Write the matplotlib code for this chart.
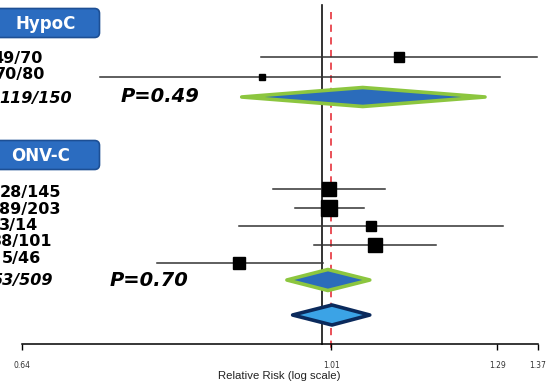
import numpy as np
import matplotlib
matplotlib.use("Agg")
import matplotlib.pyplot as plt
from matplotlib.patches import FancyBboxPatch, Polygon

# --- data -------------------------------------------------------------
groups = ["HypoC", "ONV-C"]
group_labels = [["49/70", "70/80"],
                ["28/145", "89/203", "3/14", "38/101", "5/46"]]
group_est = [[1.116, 0.912],
             [1.007, 1.007, 1.071, 1.077, 0.881]]
group_lo = [[0.910, 0.718],
            [0.927, 0.957, 0.881, 0.985, 0.781]]
group_hi = [[1.368, 1.295],
            [1.093, 1.060, 1.301, 1.179, 0.998]]
group_weight = [[7.0, 5.0],
                [9.5, 12.0, 7.0, 9.5, 8.5]]
pooled_labels = ["119/150", "53/509"]
pooled_est = [1.058, 1.005]
pooled_lo = [0.885, 0.946]
pooled_hi = [1.267, 1.069]
p_values = ["P=0.49", "P=0.70"]
overall_est, overall_lo, overall_hi = 1.011, 0.954, 1.069
null_line = 0.996
ref_line = 1.01
xticks = [0.64, 1.01, 1.29, 1.37]

# --- layout (pixels, figure is 550x387) --------------------------------
W, H = 550, 387
header_y = [23, 155]
first_row_y = [57, 189]
row_step = [20, 18.5]
label_first_y = [57, 192]
label_step = [17, 16.3]
pooled_y = [97, 280]
label_right = [[43, 45], [61, 61, 38, 52, 41]]
pooled_right = [72, 53]
p_left = [121, 110]
dia_half = [9.5, 10.5]
axis_y = 344

fig = plt.figure(figsize=(W / 100, H / 100), dpi=100)
ax = fig.add_axes([0, 0, 1, 1])
ax.set_xscale("log")
ax.set_xlim(0.6196, 1.3945)
ax.set_ylim(H, 0)

txt = fig.add_axes([0, 0, 1, 1], facecolor="none")
txt.set_xlim(0, W)
txt.set_ylim(H, 0)
txt.axis("off")

ax.plot([null_line, null_line], [5, axis_y], color="#111111", lw=1.2, zorder=1)
ax.plot([ref_line, ref_line], [12, axis_y + 5], color="#e8424b", lw=1.3,
        dashes=(4, 3), zorder=1)

for g, name in enumerate(groups):
    box = FancyBboxPatch((-30, header_y[g] - 13), 128, 26,
                         boxstyle="round,pad=1.5,rounding_size=5",
                         fc="#2b6cc0", ec="#1d4f94", lw=1.2)
    txt.add_patch(box)
    if g == 0:
        txt.text(46, header_y[g] + 1, name, color="white", fontsize=12,
                 fontweight="bold", ha="center", va="center")
    else:
        txt.text(70, header_y[g] + 1, name, color="white", fontsize=12,
                 fontweight="bold", ha="right", va="center")

    for i in range(len(group_labels[g])):
        y = first_row_y[g] + i * row_step[g]
        ax.plot([group_lo[g][i], group_hi[g][i]], [y, y], color="#333333",
                lw=1.1, zorder=2)
        ax.plot(group_est[g][i], y, marker="s", color="black",
                ms=group_weight[g][i], zorder=3)
        ty = label_first_y[g] + i * label_step[g]
        txt.text(label_right[g][i], ty + 1, group_labels[g][i], fontsize=11.5,
                 fontweight="bold", ha="right", va="center")

    py = pooled_y[g]
    h = dia_half[g]
    dia = Polygon([[pooled_lo[g], py], [pooled_est[g], py - h],
                   [pooled_hi[g], py], [pooled_est[g], py + h]],
                  closed=True, fc="#2b6cbb", ec="#8cc63f", lw=2.6,
                  joinstyle="round", zorder=3)
    ax.add_patch(dia)
    txt.text(pooled_right[g], py + 1, pooled_labels[g], fontsize=11.5,
             fontweight="bold", style="italic", ha="right", va="center")
    txt.text(p_left[g], py, p_values[g], fontsize=14, fontweight="bold",
             style="italic", ha="left", va="center")

oy = 315
dia = Polygon([[overall_lo, oy], [overall_est, oy - 10],
               [overall_hi, oy], [overall_est, oy + 10]],
              closed=True, fc="#3ba3e6", ec="#0b2a5c", lw=2.6,
              joinstyle="round", zorder=3)
ax.add_patch(dia)

for s in ["top", "left", "right"]:
    ax.spines[s].set_visible(False)
ax.spines["bottom"].set_position(("data", axis_y))
ax.spines["bottom"].set_bounds(xticks[0], xticks[-1])
ax.spines["bottom"].set_linewidth(1.1)
ax.set_yticks([])
ax.set_xticks(xticks)
ax.set_xticklabels([str(t) for t in xticks])
ax.xaxis.set_minor_locator(matplotlib.ticker.NullLocator())
ax.tick_params(axis="x", direction="out", length=4, width=1, pad=8,
               labelsize=5.5, labelcolor="#333333")
ax.patch.set_visible(False)

txt.text(279, 376, "Relative Risk (log scale)", fontsize=8.2,
         family="Liberation Sans", color="#222222", ha="center", va="center")

fig.savefig("out.png", dpi=100)
